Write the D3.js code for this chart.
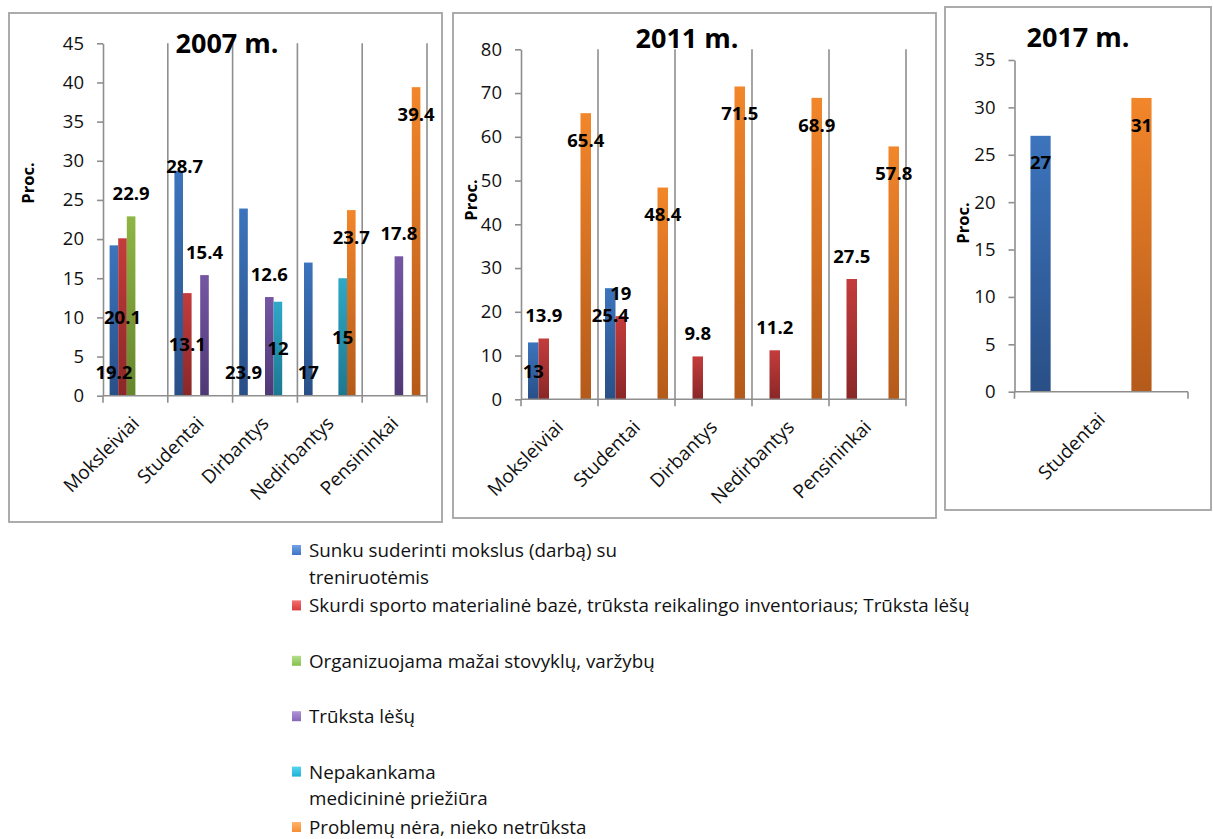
<!DOCTYPE html>
<html>
<head>
<meta charset="utf-8">
<script src="https://cdn.jsdelivr.net/npm/d3@7"></script>
<style>
  body { margin: 0; background: #fff; }
  svg { display: block; font-family: "Open Sans", sans-serif; }
</style>
</head>
<body>
<svg id="chart" width="1213" height="839"></svg>
<script>
// ---- Series (reasons), in legend order ----
const seriesKeys = ["sunku", "skurdi", "organizuojama", "truksta", "nepakankama", "problemu"];
const seriesLegend = [
  ["Sunku suderinti mokslus (darbą) su", "treniruotėmis"],
  ["Skurdi sporto materialinė bazė, trūksta reikalingo inventoriaus; Trūksta lėšų"],
  ["Organizuojama mažai stovyklų, varžybų"],
  ["Trūksta lėšų"],
  ["Nepakankama", "medicininė priežiūra"],
  ["Problemų nėra, nieko netrūksta"]
];

// ---- 2007 m. ----
const categories2007 = ["Moksleiviai", "Studentai", "Dirbantys", "Nedirbantys", "Pensininkai"];
const sunku2007         = [19.2, 28.7, 23.9, 17,   null];
const skurdi2007        = [20.1, 13.1, null, null, null];
const organizuojama2007 = [22.9, null, null, null, null];
const truksta2007       = [null, 15.4, 12.6, null, 17.8];
const nepakankama2007   = [null, null, 12,   15,   null];
const problemu2007      = [null, null, null, 23.7, 39.4];
const yTicks2007 = [0, 5, 10, 15, 20, 25, 30, 35, 40, 45];

// ---- 2011 m. ----
const categories2011 = ["Moksleiviai", "Studentai", "Dirbantys", "Nedirbantys", "Pensininkai"];
const sunku2011         = [13,   25.4, null, null, null];
const skurdi2011        = [13.9, 19,   9.8,  11.2, 27.5];
const organizuojama2011 = [null, null, null, null, null];
const truksta2011       = [null, null, null, null, null];
const nepakankama2011   = [null, null, null, null, null];
const problemu2011      = [65.4, 48.4, 71.5, 68.9, 57.8];
const yTicks2011 = [0, 10, 20, 30, 40, 50, 60, 70, 80];

// ---- 2017 m. ----
const categories2017 = ["Studentai"];
const sunku2017         = [27];
const skurdi2017        = [null];
const organizuojama2017 = [null];
const truksta2017       = [null];
const nepakankama2017   = [null];
const problemu2017      = [31];
const yTicks2017 = [0, 5, 10, 15, 20, 25, 30, 35];

// ---- Value label placement (relative to each bar) ----
const labelPlace2007 = {
  sunku:         ["base", "top", "base", "base", null],
  skurdi:        ["center", "center", null, null, null],
  organizuojama: ["out", null, null, null, null],
  truksta:       [null, "out", "out", null, "out"],
  nepakankama:   [null, null, "center", "center", null],
  problemu:      [null, null, null, "in", "in"]
};
const labelPlace2011 = {
  sunku:    ["center", "in", null, null, null],
  skurdi:   ["out", "out", "out", "out", "out"],
  problemu: ["in", "in", "in", "in", "in"]
};
const labelPlace2017 = { sunku: ["in"], problemu: ["in"] };

// ---- Colours ----
const barColors = {
  sunku:         ["#3c74bd", "#294f86"],
  skurdi:        ["#c43c3c", "#8a2727"],
  organizuojama: ["#8fb544", "#66852c"],
  truksta:       ["#7556a4", "#4e3975"],
  nepakankama:   ["#2fa8c7", "#1c7891"],
  problemu:      ["#f2862a", "#b45a1a"]
};
const legendColors = {
  sunku:         ["#73a3e6", "#3e74c6"],
  skurdi:        ["#f57070", "#d63c3c"],
  organizuojama: ["#b3e08a", "#86c04e"],
  truksta:       ["#b194d8", "#8666b8"],
  nepakankama:   ["#55d6f2", "#1fb0d6"],
  problemu:      ["#ffb56a", "#f78d33"]
};

const svg = d3.select("#chart");
const defs = svg.append("defs");
function addGradient(id, [c1, c2]) {
  const g = defs.append("linearGradient").attr("id", id)
    .attr("x1", 0).attr("y1", 0).attr("x2", 0).attr("y2", 1);
  g.append("stop").attr("offset", "0%").attr("stop-color", c1);
  g.append("stop").attr("offset", "100%").attr("stop-color", c2);
}
seriesKeys.forEach(k => {
  addGradient("bar-" + k, barColors[k]);
  addGradient("leg-" + k, legendColors[k]);
});

const AXIS = "#8e8e8e";
const BORDER = "#a3a3a3";

const panels = [
  {
    title: "2007 m.", categories: categories2007, yTicks: yTicks2007, yMax: 45,
    values: { sunku: sunku2007, skurdi: skurdi2007, organizuojama: organizuojama2007,
              truksta: truksta2007, nepakankama: nepakankama2007, problemu: problemu2007 },
    labels: labelPlace2007,
    box: { x: 9, y: 13, w: 433, h: 509 },
    plot: { left: 103, right: 427, top: 43.3, bottom: 395.7 },
    inset: [0.102, 0.102], gridlines: true,
    titlePos: [227, 53], procPos: [28, 183]
  },
  {
    title: "2011 m.", categories: categories2011, yTicks: yTicks2011, yMax: 80,
    values: { sunku: sunku2011, skurdi: skurdi2011, organizuojama: organizuojama2011,
              truksta: truksta2011, nepakankama: nepakankama2011, problemu: problemu2011 },
    labels: labelPlace2011,
    box: { x: 453, y: 13, w: 483, h: 505 },
    plot: { left: 521, right: 906, top: 49.3, bottom: 399.3 },
    inset: [0.091, 0.091], gridlines: true,
    titlePos: [687, 48], procPos: [471, 200]
  },
  {
    title: "2017 m.", categories: categories2017, yTicks: yTicks2017, yMax: 35,
    values: { sunku: sunku2017, skurdi: skurdi2017, organizuojama: organizuojama2017,
              truksta: truksta2017, nepakankama: nepakankama2017, problemu: problemu2017 },
    labels: labelPlace2017,
    box: { x: 945, y: 7, w: 266, h: 503 },
    plot: { left: 1014.5, right: 1188, top: 60, bottom: 391.7 },
    inset: [0.092, 0.21], gridlines: false,
    titlePos: [1078, 47], procPos: [963, 223]
  }
];

panels.forEach(p => {
  const g = svg.append("g");

  // frame
  g.append("rect")
    .attr("x", p.box.x).attr("y", p.box.y)
    .attr("width", p.box.w).attr("height", p.box.h)
    .attr("fill", "#fff").attr("stroke", BORDER).attr("stroke-width", 1.8);

  const x = d3.scaleBand().domain(p.categories)
    .range([p.plot.left, p.plot.right]).padding(0);
  const cw = x.bandwidth();
  const s = d3.scaleBand().domain(seriesKeys)
    .range([cw * p.inset[0], cw * (1 - p.inset[1])]).padding(0);
  const y = d3.scaleLinear().domain([0, p.yMax]).range([p.plot.bottom, p.plot.top]);

  // category boundaries: gridlines and tick marks
  const bounds = p.categories.map(c => x(c)).concat([x(p.categories[p.categories.length - 1]) + cw]);
  bounds.forEach((bx, i) => {
    const top = (p.gridlines && i > 0) ? y(p.yMax) : y(0);
    g.append("line")
      .attr("x1", bx).attr("x2", bx)
      .attr("y1", top).attr("y2", y(0) + 7)
      .attr("stroke", AXIS).attr("stroke-width", 1.6);
  });

  // bars
  const bars = [];
  p.categories.forEach((c, i) => {
    seriesKeys.forEach(k => {
      const v = p.values[k][i];
      if (v == null) return;
      bars.push({ c, i, k, v });
    });
  });
  g.selectAll("rect.bar").data(bars).join("rect")
    .attr("class", "bar")
    .attr("x", d => x(d.c) + s(d.k))
    .attr("width", s.bandwidth())
    .attr("y", d => y(d.v))
    .attr("height", d => y(0) - y(d.v))
    .attr("fill", d => `url(#bar-${d.k})`);

  // y axis
  const yAxis = d3.axisLeft(y).tickValues(p.yTicks).tickSize(6).tickSizeOuter(0).tickPadding(13);
  const ya = g.append("g").attr("transform", `translate(${p.plot.left},0)`).call(yAxis);
  ya.select(".domain").attr("stroke", AXIS).attr("stroke-width", 1.6);
  ya.selectAll(".tick line").attr("stroke", AXIS).attr("stroke-width", 1.6);
  ya.selectAll(".tick text").attr("font-size", 18.5).attr("fill", "#111")
    .attr("font-family", "Open Sans, sans-serif");

  // x axis baseline + rotated category labels
  g.append("line")
    .attr("x1", p.plot.left).attr("x2", p.plot.right)
    .attr("y1", y(0)).attr("y2", y(0))
    .attr("stroke", AXIS).attr("stroke-width", 1.6);
  const xAxis = d3.axisBottom(x).tickSize(0).tickSizeOuter(0);
  const xa = g.append("g").attr("transform", `translate(0,${y(0)})`).call(xAxis);
  xa.select(".domain").remove();
  xa.selectAll(".tick text")
    .attr("x", 0).attr("y", 0).attr("dy", 0)
    .attr("text-anchor", "end")
    .attr("transform", "translate(5,29) rotate(-45)")
    .attr("font-size", 19).attr("fill", "#111")
    .attr("font-family", "Open Sans, sans-serif");

  // value labels
  const labelY = d => {
    const mode = (p.labels[d.k] || [])[d.i];
    if (mode === "base") return y(0) - 23;
    if (mode === "center") return (y(d.v) + y(0)) / 2;
    if (mode === "out") return y(d.v) - 23;
    if (mode === "in") return y(d.v) + 27;
    if (mode === "top") return y(d.v) - 5;
    return null;
  };
  const labelDx = d => ((p.labels[d.k] || [])[d.i] === "top" ? 6 : 0);
  g.selectAll("text.val").data(bars.filter(d => labelY(d) != null)).join("text")
    .attr("class", "val")
    .attr("x", d => x(d.c) + s(d.k) + s.bandwidth() / 2 + labelDx(d))
    .attr("y", d => labelY(d))
    .attr("dy", "0.36em")
    .attr("text-anchor", "middle")
    .attr("font-size", 18.5).attr("font-weight", 700).attr("fill", "#000")
    .text(d => String(d.v));

  // title
  g.append("text")
    .attr("x", p.titlePos[0]).attr("y", p.titlePos[1])
    .attr("text-anchor", "middle")
    .attr("font-size", 27).attr("font-weight", 700).attr("fill", "#000")
    .text(p.title);

  // y axis title
  g.append("text")
    .attr("transform", `translate(${p.procPos[0]},${p.procPos[1]}) rotate(-90)`)
    .attr("text-anchor", "middle").attr("dy", "0.35em")
    .attr("font-size", 16.5).attr("font-weight", 700).attr("fill", "#000")
    .text("Proc.");
});

// ---- Legend ----
const legend = svg.append("g").attr("transform", "translate(292,0)");
const itemTop = d3.scaleLinear().domain([0, 5]).range([557, 834]);
seriesKeys.forEach((k, i) => {
  const base = itemTop(i);
  legend.append("rect")
    .attr("x", 0).attr("y", base - 12)
    .attr("width", 9).attr("height", 10)
    .attr("fill", `url(#leg-${k})`);
  const t = legend.append("text")
    .attr("x", 17).attr("y", base)
    .attr("font-size", 18.8).attr("fill", "#111");
  seriesLegend[i].forEach((line, j) => {
    t.append("tspan").attr("x", 17).attr("y", base + j * 26.5).text(line);
  });
});
</script>
</body>
</html>
